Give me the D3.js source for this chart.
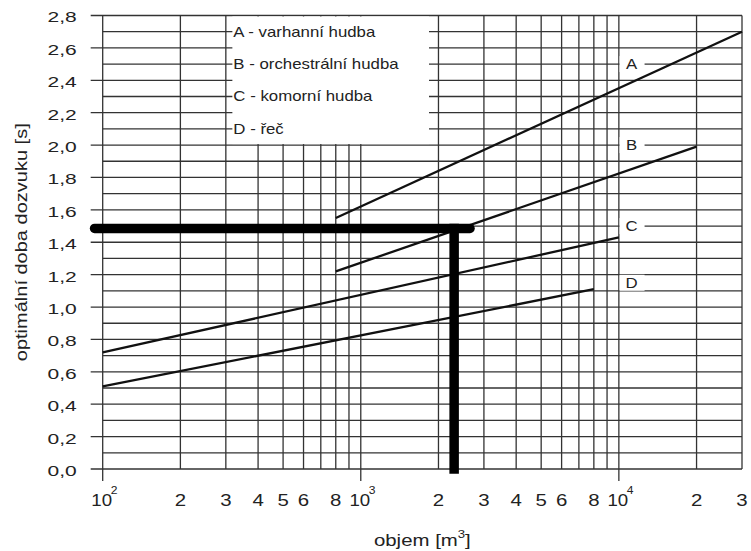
<!DOCTYPE html>
<html>
<head>
<meta charset="utf-8">
<script src="https://cdn.jsdelivr.net/npm/d3@7"></script>
<style>
  body { margin: 0; background: #fff; }
  text { font-family: 'Liberation Sans', Arial, sans-serif; fill: #222; }
</style>
</head>
<body>
<svg width="751" height="551"></svg>
<script>
// --- data ---
const yMajor = [0, 0.2, 0.4, 0.6, 0.8, 1.0, 1.2, 1.4, 1.6, 1.8, 2.0, 2.2, 2.4, 2.6, 2.8];
const yMajorLabels = ['0,0', '0,2', '0,4', '0,6', '0,8', '1,0', '1,2', '1,4', '1,6', '1,8', '2,0', '2,2', '2,4', '2,6', '2,8'];
const yMinor = [0.1, 0.3, 0.5, 0.7, 0.9, 1.1, 1.3, 1.5, 1.7, 1.9, 2.1, 2.3, 2.5, 2.7];

const xGrid = [100, 200, 300, 400, 500, 600, 700, 800, 900,
  1000, 2000, 3000, 4000, 5000, 6000, 7000, 8000, 9000,
  10000, 20000, 30000];
const xDecades = [100, 1000, 10000];
const xDecadeExponents = ['2', '3', '4'];
const xLabelValues = [200, 300, 400, 500, 600, 800, 2000, 3000, 4000, 5000, 6000, 8000, 20000, 30000];
const xLabels = ['2', '3', '4', '5', '6', '8', '2', '3', '4', '5', '6', '8', '2', '3'];

// curves: [volume m3, reverberation time s]
const curveA = [[800, 1.55], [30000, 2.70]];
const curveB = [[800, 1.22], [20000, 1.99]];
const curveC = [[100, 0.72], [10000, 1.43]];
const curveD = [[100, 0.51], [8000, 1.11]];
const curveNames = ['A', 'B', 'C', 'D'];
const curveLabelLevels = [2.5, 2.0, 1.5, 1.15];
const curveLabelVolume = 11200;

const legendTexts = ['A - varhanní hudba', 'B - orchestrální hudba', 'C - komorní hudba', 'D - řeč'];
const legendLevels = [2.7, 2.5, 2.3, 2.1];
const legendBox = { from: 318, to: 1838, top: 2.8, bottom: 2.0 };

// worked example (thick lines)
const readingVolume = 2300;
const readingTime = 1.485;
const readingLineFrom = 93;
const readingLineTo = 2650;

// --- chart ---
const svg = d3.select('svg');
const width = +svg.attr('width');
const height = +svg.attr('height');
const margin = { top: 15.5, right: 9, bottom: 82, left: 102.7 };

const xScale = d3.scaleLog()
  .domain([100, 30000])
  .range([margin.left, width - margin.right]);

const yScale = d3.scaleLinear()
  .domain([0, 2.8])
  .range([height - margin.bottom, margin.top]);

const x0 = xScale.range()[0];
const x1 = xScale.range()[1];
const yBottom = yScale(0);
const yTop = yScale(2.8);

// text with horizontal stretch (the original lettering is wide)
const label = (parent, str, px, py, { size = 14, sx = 1.2, anchor = 'start', dy = '0.35em' } = {}) =>
  parent.append('text')
    .attr('transform', `translate(${px},${py}) scale(${sx},1)`)
    .attr('text-anchor', anchor)
    .attr('dy', dy)
    .attr('font-size', size)
    .text(str);

// grid
const grid = svg.append('g').attr('class', 'grid')
  .attr('stroke', '#333')
  .attr('stroke-width', 1.3);

grid.selectAll('line.h-major')
  .data(yMajor)
  .join('line')
  .attr('class', 'h-major')
  .attr('x1', x0 - 12).attr('x2', x1)
  .attr('y1', d => yScale(d)).attr('y2', d => yScale(d));

grid.selectAll('line.h-minor')
  .data(yMinor)
  .join('line')
  .attr('class', 'h-minor')
  .attr('x1', x0).attr('x2', x1)
  .attr('y1', d => yScale(d)).attr('y2', d => yScale(d));

grid.selectAll('line.v')
  .data(xGrid)
  .join('line')
  .attr('class', 'v')
  .attr('x1', d => xScale(d)).attr('x2', d => xScale(d))
  .attr('y1', yTop)
  .attr('y2', d => xDecades.includes(d) ? yBottom + 12 : yBottom);

// legend box (white, hides grid)
svg.append('rect')
  .attr('x', xScale(legendBox.from))
  .attr('y', yScale(legendBox.top) + 1)
  .attr('width', xScale(legendBox.to) - xScale(legendBox.from))
  .attr('height', yScale(legendBox.bottom) - yScale(legendBox.top) - 2)
  .attr('fill', '#fff');

legendTexts.forEach((t, i) => {
  label(svg, t, xScale(legendBox.from) + 1, yScale(legendLevels[i]), { size: 14, sx: 1.2 });
});

// curves
const lineGen = d3.line()
  .x(d => xScale(d[0]))
  .y(d => yScale(d[1]));

svg.append('g').selectAll('path')
  .data([curveA, curveB, curveC, curveD])
  .join('path')
  .attr('d', lineGen)
  .attr('fill', 'none')
  .attr('stroke', '#111')
  .attr('stroke-width', 2.3);

// curve labels with white patch over the grid
curveNames.forEach((n, i) => {
  const cx = xScale(curveLabelVolume);
  const cy = yScale(curveLabelLevels[i]);
  svg.append('rect')
    .attr('x', cx - 12).attr('y', cy - 8)
    .attr('width', 25).attr('height', 16)
    .attr('fill', '#fff');
  label(svg, n, cx, cy, { size: 14, sx: 1.2, anchor: 'middle' });
});

// worked example
const thick = svg.append('g').attr('stroke', '#000').attr('stroke-width', 9.5);
thick.append('line')
  .attr('x1', xScale(readingLineFrom)).attr('x2', xScale(readingLineTo))
  .attr('y1', yScale(readingTime)).attr('y2', yScale(readingTime))
  .attr('stroke-linecap', 'round');
thick.append('line')
  .attr('x1', xScale(readingVolume)).attr('x2', xScale(readingVolume))
  .attr('y1', yScale(readingTime)).attr('y2', yScale(0))
  .attr('stroke-linecap', 'square');

// y tick labels
yMajor.forEach((v, i) => {
  label(svg, yMajorLabels[i], x0 - 26, yScale(v) + 2, { size: 14, sx: 1.5, anchor: 'end' });
});

// x tick labels
const xLabelBaseline = yBottom + 37;
xLabelValues.forEach((v, i) => {
  label(svg, xLabels[i], xScale(v), xLabelBaseline, { size: 17, sx: 1.2, anchor: 'middle', dy: 0 });
});
xDecades.forEach((v, i) => {
  label(svg, '10', xScale(v) - 1, xLabelBaseline, { size: 17, sx: 1.1, anchor: 'middle', dy: 0 });
  label(svg, xDecadeExponents[i], xScale(v) + 8, xLabelBaseline - 12, { size: 11, sx: 1.1, dy: 0 });
});

// axis titles
const xTitle = svg.append('text')
  .attr('transform', `translate(${(x0 + x1) / 2},${height - 5}) scale(1.2,1)`)
  .attr('text-anchor', 'middle')
  .attr('font-size', 17);
xTitle.append('tspan').text('objem [m');
xTitle.append('tspan').attr('font-size', 11).attr('dy', -8).text('3');
xTitle.append('tspan').attr('dy', 8).text(']');

svg.append('text')
  .attr('transform', `translate(27,${(yTop + yBottom) / 2}) rotate(-90) scale(1.25,1)`)
  .attr('text-anchor', 'middle')
  .attr('font-size', 16)
  .text('optimální doba dozvuku [s]');
</script>
</body>
</html>
